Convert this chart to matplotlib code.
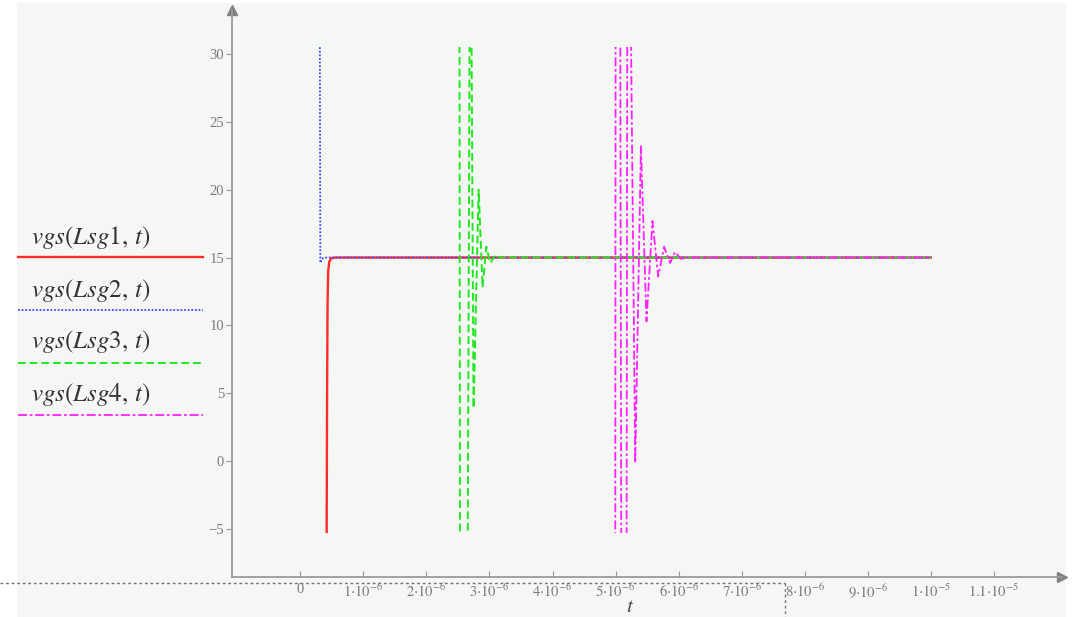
import numpy as np
import matplotlib
matplotlib.use('Agg')
import matplotlib.pyplot as plt
from matplotlib.patches import Rectangle
from matplotlib.lines import Line2D

plt.rcParams['font.family'] = ['Liberation Serif', 'DejaVu Serif']
plt.rcParams['mathtext.fontset'] = 'stix'

# values, time in microseconds
# (peaks that run off the plotted range are given just beyond it and get clipped)
t_lsg1 = [0.418, 0.424, 0.432, 0.442, 0.46, 0.49, 0.56, 10.0]
v_lsg1 = [-5.3, 4.0, 11.5, 14.0, 14.7, 14.95, 15.0, 15.0]

t_lsg2 = [0.31, 0.318, 0.34, 0.38, 10.0]
v_lsg2 = [30.5, 14.6, 14.9, 15.0, 15.0]

t_lsg3 = [2.525, 2.532, 2.655, 2.685, 2.715, 2.748, 2.828, 2.891, 2.95, 3.013, 3.097, 3.16, 10.0]
v_lsg3 = [31.5, -6.3, -6.3, 31.5, 31.5, 3.9, 20.0, 12.8, 15.8, 14.6, 15.2, 15.0, 15.0]

t_lsg4 = [4.995, 5.0, 5.075, 5.09, 5.175, 5.185, 5.244, 5.312, 5.402, 5.49, 5.585, 5.676,
          5.77, 5.865, 5.94, 6.04, 6.13, 10.0]
v_lsg4 = [-6.3, 31.5, 31.5, -6.3, -6.3, 31.5, 31.5, -0.15, 23.2, 10.3, 17.7, 13.6,
          15.8, 14.6, 15.4, 14.9, 15.0, 15.0]

y_shown = [-5.3, 30.5]

series_names = [r'$\mathit{vgs}\left(\mathit{Lsg1},\,\mathit{t}\right)$',
                r'$\mathit{vgs}\left(\mathit{Lsg2},\,\mathit{t}\right)$',
                r'$\mathit{vgs}\left(\mathit{Lsg3},\,\mathit{t}\right)$',
                r'$\mathit{vgs}\left(\mathit{Lsg4},\,\mathit{t}\right)$']

y_ticks = [-5, 0, 5, 10, 15, 20, 25, 30]
x_ticks = [0, 1e-6, 2e-6, 3e-6, 4e-6, 5e-6, 6e-6, 7e-6, 8e-6, 9e-6, 1e-5, 1.1e-5]
x_tick_labels = ['0', r'$1{\cdot}10^{-6}$', r'$2{\cdot}10^{-6}$', r'$3{\cdot}10^{-6}$',
                 r'$4{\cdot}10^{-6}$', r'$5{\cdot}10^{-6}$', r'$6{\cdot}10^{-6}$',
                 r'$7{\cdot}10^{-6}$', r'$8{\cdot}10^{-6}$', r'$9{\cdot}10^{-6}$',
                 r'$1{\cdot}10^{-5}$', r'$1.1{\cdot}10^{-5}$']

W, H = 1073, 617
bg = '#f4f7f3'
axis_col = '#9a9a9a'

fig = plt.figure(figsize=(W / 100, H / 100), dpi=100)
fig.patch.set_facecolor('white')
fig.patches.append(Rectangle((17 / W, 0), (1066 - 17) / W, (H - 3) / H,
                             transform=fig.transFigure, facecolor=bg,
                             edgecolor='none', zorder=-10))

ax = fig.add_axes([231.7 / W, 1 - 577 / H, (1062 - 231.7) / W, (577 - 10) / H])
ax.set_facecolor('none')
xmin, xmax = -1.088e-6, 12.08e-6
ax.set_xlim(xmin, xmax)
ax.set_ylim(-8.54, 33.24)

styles = [
    dict(color='#ff2a2a', lw=1.7, ls='-'),
    dict(color='#4646ff', lw=1.3, ls=(0, (1, 1))),
    dict(color='#22e622', lw=1.4, ls=(0, (4, 2))),
    dict(color='#ff22ff', lw=1.3, ls=(0, (5, 1.5, 1.5, 1.5))),
]
data = [(t_lsg1, v_lsg1), (t_lsg2, v_lsg2), (t_lsg3, v_lsg3), (t_lsg4, v_lsg4)]
for (t, v), st in zip(data, styles):
    line, = ax.plot(np.array(t) * 1e-6, v, **st)
    clip = Rectangle((xmin, y_shown[0]), xmax - xmin, y_shown[1] - y_shown[0],
                     transform=ax.transData)
    line.set_clip_path(clip)

for s in ['top', 'right']:
    ax.spines[s].set_visible(False)
for s in ['left', 'bottom']:
    ax.spines[s].set_color(axis_col)
    ax.spines[s].set_linewidth(1.3)

ax.plot(1, 0, '>', transform=ax.transAxes, clip_on=False, color='#808080', ms=7)
ax.plot(0, 1, '^', transform=ax.transAxes, clip_on=False, color='#808080', ms=7)

ax.set_yticks(y_ticks)
ax.set_yticklabels([str(v).replace('-', '\u2212') for v in y_ticks])
ax.set_xticks(x_ticks)
ax.set_xticklabels(x_tick_labels)
ax.tick_params(axis='x', direction='in', length=4, color=axis_col,
               labelcolor='#7a7a7a', labelsize=10.5, pad=4)
ax.tick_params(axis='y', direction='out', length=4, color=axis_col,
               labelcolor='#7a7a7a', labelsize=10.5, pad=1.5)

fig.text(630 / W, 1 - 608 / H, r'$\mathit{t}$', fontsize=15, color='#444444',
         ha='center', va='center')

# dotted region border below the axis
fig.add_artist(Line2D([0, 785 / W], [1 - 583 / H, 1 - 583 / H], transform=fig.transFigure,
                      color='#707070', lw=1, ls=(0, (2, 2))))
fig.add_artist(Line2D([785 / W, 785 / W], [1 - 583 / H, 0], transform=fig.transFigure,
                      color='#707070', lw=1, ls=(0, (2, 2))))

# legend on the left
text_y = [238, 290, 342, 394]
line_y = [257.5, 310, 362.7, 415]
for name, ty, ly, st in zip(series_names, text_y, line_y, styles):
    fig.text(31 / W, 1 - ty / H, name, fontsize=18, color='#333333',
             ha='left', va='center')
    fig.add_artist(Line2D([18 / W, 203 / W], [1 - ly / H, 1 - ly / H],
                          transform=fig.transFigure, color=st['color'],
                          lw=st['lw'], ls=st['ls']))

fig.savefig('out.png', dpi=100, facecolor=fig.get_facecolor())
